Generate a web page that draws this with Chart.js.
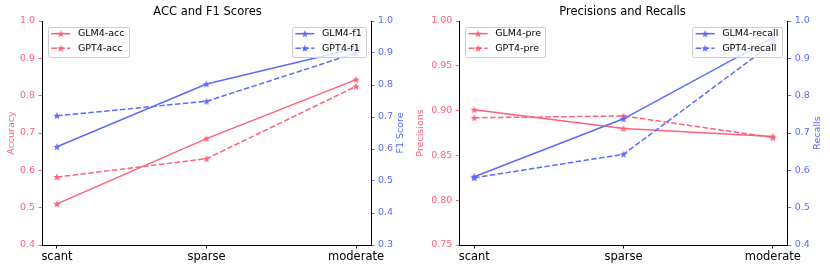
<!DOCTYPE html>
<html>
<head>
<meta charset="utf-8">
<title>ACC and F1 / Precisions and Recalls</title>
<script src="https://cdn.jsdelivr.net/npm/chart.js@4.4.1/dist/chart.umd.min.js"></script>
<style>
  body { margin: 0; background: #fff; }
  #wrap { position: relative; width: 830px; height: 270px; }
  canvas { position: absolute; top: 0; }
</style>
</head>
<body>
<div id="wrap">
  <canvas id="left-chart" width="415" height="270" style="left:0"></canvas>
  <canvas id="right-chart" width="415" height="270" style="left:415px"></canvas>
</div>
<script>
// x axis categories
const categories = ['scant', 'sparse', 'moderate'];

// left panel: accuracy (left axis) and f1 (right axis)
const glm4Acc = [0.510, 0.685, 0.843];
const gpt4Acc = [0.582, 0.631, 0.825];
const glm4F1 = [0.607, 0.803, 0.915];
const gpt4F1 = [0.704, 0.749, 0.900];

// right panel: precision (left axis) and recall (right axis)
const glm4Pre = [0.901, 0.880, 0.871];
const gpt4Pre = [0.892, 0.894, 0.870];
const glm4Recall = [0.583, 0.738, 0.955];
const gpt4Recall = [0.580, 0.643, 0.940];

// tick labels
const accTicks = [0.4, 0.5, 0.6, 0.7, 0.8, 0.9, 1.0];
const f1Ticks = [0.3, 0.4, 0.5, 0.6, 0.7, 0.8, 0.9, 1.0];
const preTicks = [0.75, 0.80, 0.85, 0.90, 0.95, 1.00];
const recallTicks = [0.4, 0.5, 0.6, 0.7, 0.8, 0.9, 1.0];

const RED = '#ff6179';
const BLUE = '#5b6bff';
const FONT = '"DejaVu Sans", "Liberation Sans", sans-serif';

Chart.defaults.font.family = FONT;

// filled star like matplotlib '*'
function makeStar(color) {
    const c = document.createElement('canvas');
    c.width = 10;
    c.height = 10;
    const g = c.getContext('2d');
    g.beginPath();
    for (let i = 0; i < 10; i++) {
        const r = i % 2 === 0 ? 4 : 1.6;
        const a = -Math.PI / 2 + i * Math.PI / 5;
        const px = 5 + r * Math.cos(a);
        const py = 5.3 + r * Math.sin(a);
        if (i === 0) g.moveTo(px, py); else g.lineTo(px, py);
    }
    g.closePath();
    g.fillStyle = color;
    g.fill();
    return c;
}

const toPoints = arr => arr.map((v, i) => ({ x: i, y: v }));

function line(label, values, color, dashed, axis) {
    return {
        label: label,
        data: toPoints(values),
        yAxisID: axis,
        borderColor: color,
        backgroundColor: color,
        borderWidth: 1.5,
        borderDash: dashed ? [5.5, 2.4] : [],
        pointStyle: makeStar(color),
        pointRadius: 5,
        pointHoverRadius: 5,
        order: axis === 'y1' ? 1 : 2, // twin axis lines on top
        tension: 0
    };
}

function yScale(tickVals, digits, color, pos, width, title, titlePad) {
    return {
        type: 'linear',
        position: pos,
        min: tickVals[0],
        max: tickVals[tickVals.length - 1],
        afterBuildTicks: s => { s.ticks = tickVals.map(v => ({ value: v })); },
        afterFit: s => { s.width = width; },
        ticks: {
            color: color,
            font: { size: 9.5 },
            padding: 3.5,
            callback: v => Number(v).toFixed(digits)
        },
        grid: { drawOnChartArea: false, tickLength: 3.5, tickColor: color, tickWidth: 1 },
        border: { color: '#000', width: 1 },
        title: title ? {
            display: true, text: title, color: color,
            font: { size: 9.5 }, padding: { top: titlePad, bottom: 0 }
        } : { display: false }
    };
}

const xScale = {
    type: 'linear',
    min: -0.1,
    max: 2.1,
    afterBuildTicks: s => { s.ticks = categories.map((c, i) => ({ value: i })); },
    afterFit: s => { s.height = 25; },
    ticks: {
        color: '#000',
        font: { size: 11.5 },
        padding: 2,
        maxRotation: 0,
        autoSkip: false,
        callback: v => categories[v]
    },
    grid: { drawOnChartArea: false, tickLength: 3.5, tickColor: '#000', tickWidth: 1 },
    border: { color: '#000', width: 1 }
};

// matplotlib style legends inside the plot, one per y axis
const boxLegend = {
    id: 'boxLegend',
    afterDatasetsDraw(chart) {
        const ctx = chart.ctx;
        const area = chart.chartArea;
        ['y', 'y1'].forEach(axis => {
            const sets = chart.data.datasets.filter(d => d.yAxisID === axis);
            ctx.save();
            ctx.font = '9.5px ' + FONT;
            const textW = Math.max(...sets.map(d => ctx.measureText(d.label).width));
            const pad = 3.8, handle = 19, gap = 7.6, rowH = 14.6;
            const w = pad * 2 + handle + gap + textW;
            const h = 15.4 + rowH * (sets.length - 1);
            const x0 = axis === 'y' ? area.left + 5.5 : area.right - 5.5 - w;
            const y0 = area.top + 5.5;
            ctx.beginPath();
            ctx.roundRect(Math.round(x0) + 0.5, Math.round(y0) + 0.5, Math.round(w), Math.round(h), 2);
            ctx.fillStyle = 'rgba(255,255,255,0.8)';
            ctx.fill();
            ctx.strokeStyle = '#cccccc';
            ctx.lineWidth = 1;
            ctx.stroke();
            sets.forEach((d, i) => {
                const cy = y0 + 7.2 + i * rowH;
                const hx = x0 + pad;
                ctx.beginPath();
                ctx.setLineDash(d.borderDash);
                ctx.strokeStyle = d.borderColor;
                ctx.lineWidth = d.borderWidth;
                ctx.moveTo(hx, cy);
                ctx.lineTo(hx + handle, cy);
                ctx.stroke();
                ctx.setLineDash([]);
                const star = d.pointStyle;
                ctx.drawImage(star, hx + handle / 2 - star.width / 2, cy - star.height / 2);
                ctx.fillStyle = '#000';
                ctx.textBaseline = 'middle';
                ctx.textAlign = 'left';
                ctx.fillText(d.label, hx + handle + gap, cy);
            });
            ctx.restore();
        });
    }
};

// right axis label reading bottom to top
const sideTitle = {
    id: 'sideTitle',
    afterDraw(chart, args, opts) {
        const ctx = chart.ctx;
        const area = chart.chartArea;
        ctx.save();
        ctx.translate(area.right + opts.offset, (area.top + area.bottom) / 2);
        ctx.rotate(-Math.PI / 2);
        ctx.font = '9.5px ' + FONT;
        ctx.fillStyle = opts.color;
        ctx.textAlign = 'center';
        ctx.textBaseline = 'middle';
        ctx.fillText(opts.text, 0, 0);
        ctx.restore();
    }
};

function makeChart(id, title, datasets, yLeft, yRight, sideText) {
    return new Chart(document.getElementById(id).getContext('2d'), {
        type: 'line',
        data: { datasets: datasets },
        options: {
            responsive: false,
            animation: false,
            events: [],
            devicePixelRatio: 1,
            layout: { padding: 0 },
            scales: { x: xScale, y: yLeft, y1: yRight },
            plugins: {
                legend: { display: false },
                tooltip: { enabled: false },
                title: {
                    display: true,
                    text: title,
                    color: '#000',
                    font: { size: 11.5, weight: 'normal' },
                    padding: { top: 5, bottom: 2.2 }
                },
                sideTitle: { text: sideText, color: BLUE, offset: 30 }
            }
        },
        plugins: [boxLegend, sideTitle]
    });
}

// ACC AND F1
makeChart('left-chart', 'ACC and F1 Scores', [
    line('GLM4-acc', glm4Acc, RED, false, 'y'),
    line('GPT4-acc', gpt4Acc, RED, true, 'y'),
    line('GLM4-f1', glm4F1, BLUE, false, 'y1'),
    line('GPT4-f1', gpt4F1, BLUE, true, 'y1')
],
    yScale(accTicks, 1, RED, 'left', 42, 'Accuracy', 6),
    yScale(f1Ticks, 1, BLUE, 'right', 44, null, 0),
    'F1 Score');

// PRECISIONS AND RECALLS
makeChart('right-chart', 'Precisions and Recalls', [
    line('GLM4-pre', glm4Pre, RED, false, 'y'),
    line('GPT4-pre', gpt4Pre, RED, true, 'y'),
    line('GLM4-recall', glm4Recall, BLUE, false, 'y1'),
    line('GPT4-recall', gpt4Recall, BLUE, true, 'y1')
],
    yScale(preTicks, 2, RED, 'left', 44.3, 'Precisions', 0.3),
    yScale(recallTicks, 1, BLUE, 'right', 42.3, null, 0),
    'Recalls');
</script>
</body>
</html>
